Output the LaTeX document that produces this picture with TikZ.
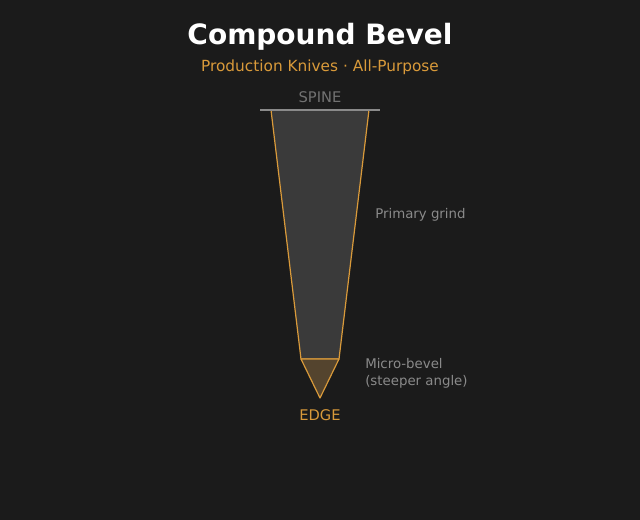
\documentclass[tikz,border=0pt]{standalone}
\usepackage{fontspec}
\setmainfont{DejaVu Sans}
\definecolor{bg}{HTML}{1B1B1B}
\definecolor{org}{HTML}{D99A3A}
\definecolor{gr}{HTML}{8A8A8A}
\definecolor{body}{HTML}{3A3A3A}
\definecolor{micro}{HTML}{54442E}
\begin{document}
\begin{tikzpicture}[x=0.75pt,y=-0.75pt,
  lbl/.style={text=gr,font=\fontsize{10}{12}\selectfont,anchor=west,inner sep=0pt}]
\fill[bg] (0,0) rectangle (640,520);
\useasboundingbox (0,0) rectangle (640,520);
\node[text=white,font=\bfseries\fontsize{21}{25}\selectfont] (t) at (320,37) {Compound Bevel};
\node[text=org,font=\fontsize{11.5}{14}\selectfont] (s) at (320,67) {Production Knives · All-Purpose};
\node[text=gr!120,font=\fontsize{11}{13}\selectfont] (sp) at (320,97) {SPINE};
\draw[fill=body,draw=org,line width=0.9pt,line join=round] (271,110) -- (369,110) -- (339,359) -- (301,359) -- cycle;
\draw[fill=micro,draw=org,line width=0.9pt,line join=round] (301,359) -- (339,359) -- (320,398) -- cycle;
\draw[gr,line width=1.5pt] (260,110) -- (380,110);
\node[text=org,font=\fontsize{11}{13}\selectfont] (e) at (320,415) {EDGE};
\node[lbl] (p) at (375,215) {Primary grind};
\node[lbl] (m1) at (365,364) {Micro-bevel};
\node[lbl] (m2) at (365,382) {(steeper angle)};
\end{tikzpicture}
\end{document}
